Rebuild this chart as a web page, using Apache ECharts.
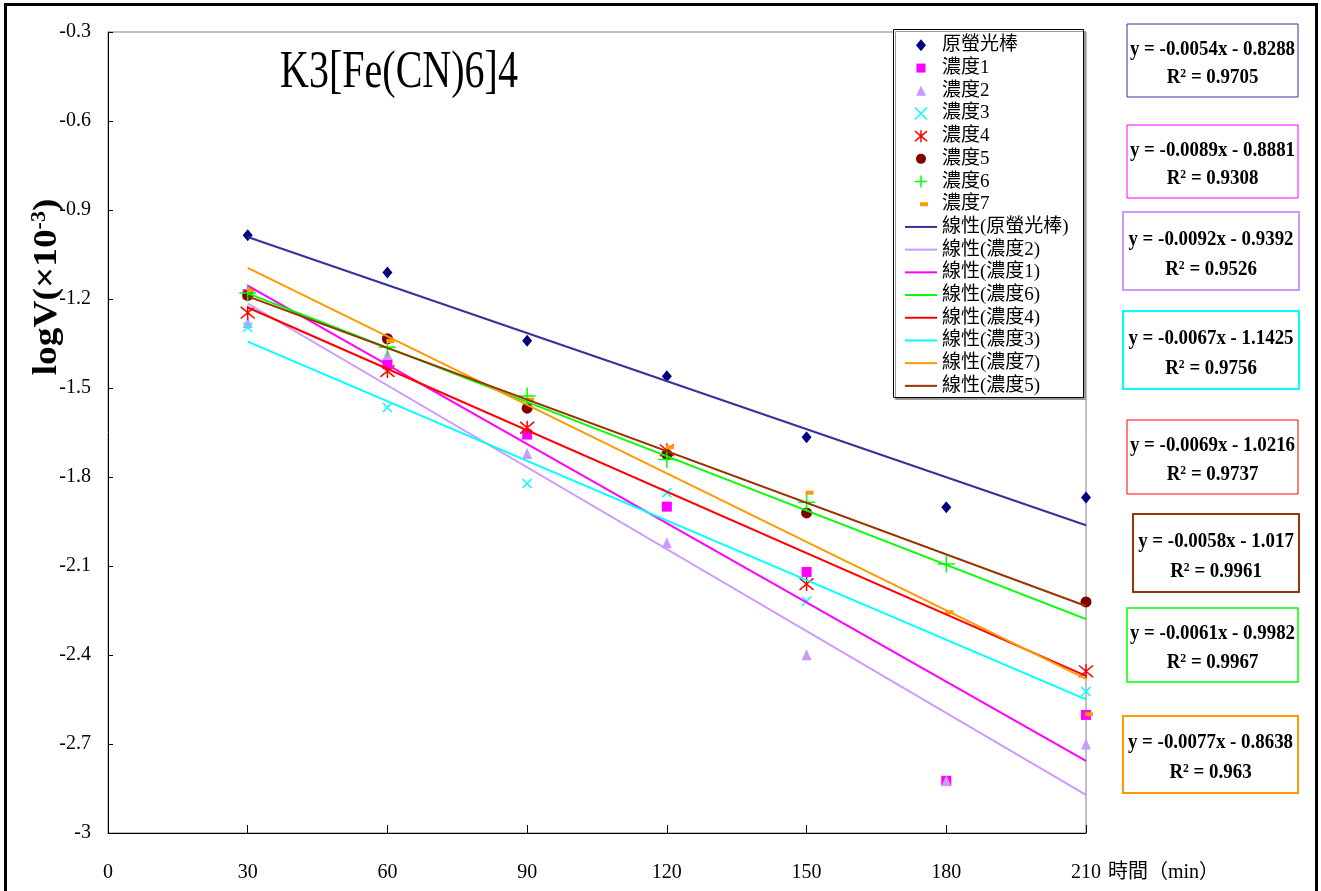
<!DOCTYPE html>
<html>
<head>
<meta charset="utf-8">
<title>K3[Fe(CN)6]4</title>
<script src="https://cdn.jsdelivr.net/npm/echarts@6/dist/echarts.min.js"></script>
<style>
  html, body { margin: 0; padding: 0; background: #fff; }
  #chart { width: 1321px; height: 891px; }
</style>
</head>
<body>
<div id="chart"></div>
<script>
// 時間 (min)
const times = [30, 60, 90, 120, 150, 180, 210]

const seriesNames = ['原螢光棒', '濃度1', '濃度2', '濃度3', '濃度4', '濃度5', '濃度6', '濃度7']

// logV values, null = no point
const glowStick = [-0.985, -1.111, -1.341, -1.460, -1.666, -1.902, -1.869]
const conc1 = [-1.184, -1.420, -1.657, -1.900, -2.120, -2.824, -2.602]
const conc2 = [-1.279, -1.387, -1.721, -2.022, -2.399, -2.824, -2.700]
const conc3 = [-1.295, -1.566, -1.822, -1.853, -2.219, null, -2.523]
const conc4 = [-1.246, -1.443, -1.634, -1.710, -2.161, null, -2.455]
const conc5 = [-1.188, -1.334, -1.568, -1.724, -1.921, null, -2.221]
const conc6 = [-1.180, -1.363, -1.527, -1.741, -1.885, -2.093, null]
const conc7 = [-1.170, -1.342, -1.539, -1.700, -1.853, -2.256, -2.600]
const values = [glowStick, conc1, conc2, conc3, conc4, conc5, conc6, conc7]

// trendline equations y = slope * x + intercept, in series order
const slopes = [-0.0054, -0.0089, -0.0092, -0.0067, -0.0069, -0.0058, -0.0061, -0.0077]
const intercepts = [-0.8288, -0.8881, -0.9392, -1.1425, -1.0216, -1.017, -0.9982, -0.8638]
const r2 = [0.9705, 0.9308, 0.9526, 0.9756, 0.9737, 0.9961, 0.9967, 0.963]

// legend order of the trendlines
const trendOrder = [0, 2, 1, 6, 4, 3, 7, 5]

const markerColors = ['#000080', '#FF00FF', '#CC99FF', '#00FFFF', '#FF0000', '#800000', '#00FF00', '#FF9900']
const trendColors = ['#333399', '#FF00FF', '#CC99FF', '#00FFFF', '#FF0000', '#993300', '#00FF00', '#FF9900']

const serif = '"Liberation Serif", "Noto Sans CJK TC", serif'

// marker shapes; legend icons are drawn in a 32x12 box (M0,0M32,12 fixes the bounds)
const markers = [
  { symbol: 'diamond', size: [10, 12], icon: 'path://M0,0M32,12M16,0L21,6L16,12L11,6Z' },
  { symbol: 'rect', size: 10, icon: 'path://M0,0M32,12M11.5,1.5h9v9h-9z' },
  { symbol: 'triangle', size: [10, 11], icon: 'path://M0,0M32,12M16,1L21,11L11,11Z' },
  { symbol: 'path://M0,0L10,10M10,0L0,10', size: 9, stroke: 1.5 },
  { symbol: 'path://M0,1L12,11M12,1L0,11M6,0L6,12', size: 14, stroke: 1.5 },
  { symbol: 'circle', size: 11, icon: 'path://M0,0M32,12M21,6A5,5,0,1,1,11,6A5,5,0,1,1,21,6Z' },
  { symbol: 'path://M6,0L6,12M0,6L12,6', size: 17, stroke: 1.5 },
  { symbol: 'rect', size: [8, 4], offset: [3, 0], icon: 'path://M0,0M32,12M15,4h8v4h-8z' }
]

// equation boxes: x, y, w, h, border width
const boxes = [
  [1127, 24, 171, 73, 1],
  [1127, 125, 171, 73, 1],
  [1123, 212, 176, 78, 2],
  [1123, 311, 176, 78, 2],
  [1127, 420, 171, 74, 1],
  [1133, 514, 166, 78, 2],
  [1127, 608, 171, 74, 1.5],
  [1123, 716, 175, 77, 2]
]

const chart = echarts.init(document.getElementById('chart'))

const scatterSeries = seriesNames.map((name, i) => ({
  name,
  type: 'scatter',
  symbol: markers[i].symbol,
  symbolSize: markers[i].size,
  symbolOffset: markers[i].offset || [0, 0],
  itemStyle: {
    color: markerColors[i],
    borderColor: markerColors[i],
    borderWidth: markers[i].stroke || 0,
    opacity: 1
  },
  emphasis: { disabled: true },
  z: 3,
  data: times.map((t, j) => [t, values[i][j]]).filter(p => p[1] !== null)
}))

const trendSeries = trendOrder.map(i => ({
  name: '線性(' + seriesNames[i] + ')',
  type: 'line',
  symbol: 'none',
  lineStyle: { color: trendColors[i], width: 2 },
  itemStyle: { color: trendColors[i] },
  emphasis: { disabled: true },
  z: 4,
  data: [times[0], times[times.length - 1]].map(x => [x, slopes[i] * x + intercepts[i]])
}))

const legendData = seriesNames.map((name, i) => {
  const item = { name }
  if (markers[i].icon) item.icon = markers[i].icon
  if (markers[i].stroke) item.itemStyle = { borderColor: markerColors[i], borderWidth: 1.5 }
  return item
}).concat(trendSeries.map(s => ({ name: s.name, icon: 'path://M0,0h32v2h-32z' })))

// equation boxes as graphic elements
const eqGraphics = []
boxes.forEach((b, i) => {
  const [x, y, w, h, bw] = b
  eqGraphics.push({
    type: 'rect',
    shape: { x, y, width: w, height: h },
    style: { fill: '#fff', stroke: trendColors[i], lineWidth: bw },
    z: 5
  })
  eqGraphics.push({
    type: 'text',
    x: x + w / 2,
    y: y + h * 0.35,
    scaleX: 0.9,
    style: {
      text: 'y = ' + slopes[i] + 'x - ' + Math.abs(intercepts[i]),
      font: 'bold 21px ' + serif,
      fill: '#000',
      textAlign: 'center',
      textVerticalAlign: 'middle'
    },
    z: 6
  })
  eqGraphics.push({
    type: 'text',
    x: x + w / 2,
    y: y + h * 0.74,
    scaleX: 0.9,
    style: {
      text: 'R{sup|2} = ' + r2[i],
      font: 'bold 21px ' + serif,
      fill: '#000',
      textAlign: 'center',
      textVerticalAlign: 'middle',
      rich: {
        sup: { font: 'bold 13px ' + serif, fill: '#000', verticalAlign: 'top', padding: [0, 0, 8, 0] }
      }
    },
    z: 6
  })
})

chart.setOption({
  animation: false,
  grid: {
    left: 108,
    top: 32,
    right: 235,
    bottom: 58,
    show: true,
    borderColor: '#808080',
    borderWidth: 1,
    outerBoundsMode: 'none'
  },
  xAxis: {
    type: 'value',
    min: 0,
    max: 210,
    interval: 30,
    axisLine: { show: true, lineStyle: { color: '#000', width: 1 } },
    axisTick: { show: true, inside: true, length: 8, lineStyle: { color: '#000' } },
    axisLabel: { margin: 30, fontFamily: serif, fontSize: 20, color: '#000' },
    splitLine: { show: false }
  },
  yAxis: {
    type: 'value',
    min: -3,
    max: -0.3,
    interval: 0.3,
    axisLine: { show: true, lineStyle: { color: '#000', width: 1 } },
    axisTick: { show: true, inside: true, length: 5, lineStyle: { color: '#000' } },
    axisLabel: {
      margin: 17,
      fontFamily: serif,
      fontSize: 20,
      color: '#000',
      formatter: v => String(+v.toFixed(1))
    },
    splitLine: { show: false }
  },
  legend: {
    left: 905,
    top: 34,
    orient: 'vertical',
    padding: 0,
    itemGap: 0,
    itemWidth: 32,
    itemHeight: 12,
    selectedMode: false,
    textStyle: { fontFamily: serif, fontSize: 19, color: '#000', lineHeight: 22.7 },
    data: legendData,
    z: 6
  },
  graphic: [
    {
      type: 'rect',
      shape: { x: 5.5, y: 4.5, width: 1311, height: 1000 },
      style: { fill: 'none', stroke: '#000', lineWidth: 3 },
      z: 10
    },
    {
      type: 'rect',
      shape: { x: 893.5, y: 29.5, width: 190, height: 368 },
      style: {
        fill: '#fff', stroke: '#000', lineWidth: 1,
        shadowColor: '#999', shadowOffsetX: 2, shadowOffsetY: 2, shadowBlur: 0
      },
      z: 5
    },
    {
      type: 'text',
      x: 280,
      y: 73,
      scaleX: 0.77,
      style: {
        text: 'K3[Fe(CN)6]4',
        font: '52px ' + serif,
        fill: '#000',
        textAlign: 'left',
        textVerticalAlign: 'middle'
      },
      z: 6
    },
    {
      type: 'text',
      x: 47,
      y: 287,
      rotation: Math.PI / 2,
      scaleX: 1.1,
      style: {
        text: 'logV(×10{sup|-3})',
        font: 'bold 34px ' + serif,
        fill: '#000',
        textAlign: 'center',
        textVerticalAlign: 'middle',
        rich: {
          sup: { font: 'bold 20px ' + serif, fill: '#000', verticalAlign: 'top', padding: [0, 0, 14, 0] }
        }
      },
      z: 6
    },
    {
      type: 'text',
      x: 1108,
      y: 873,
      style: {
        text: '時間（min）',
        font: '20px ' + serif,
        fill: '#000',
        textAlign: 'left',
        textVerticalAlign: 'middle'
      },
      z: 6
    }
  ].concat(eqGraphics),
  series: scatterSeries.concat(trendSeries)
})
</script>
</body>
</html>
